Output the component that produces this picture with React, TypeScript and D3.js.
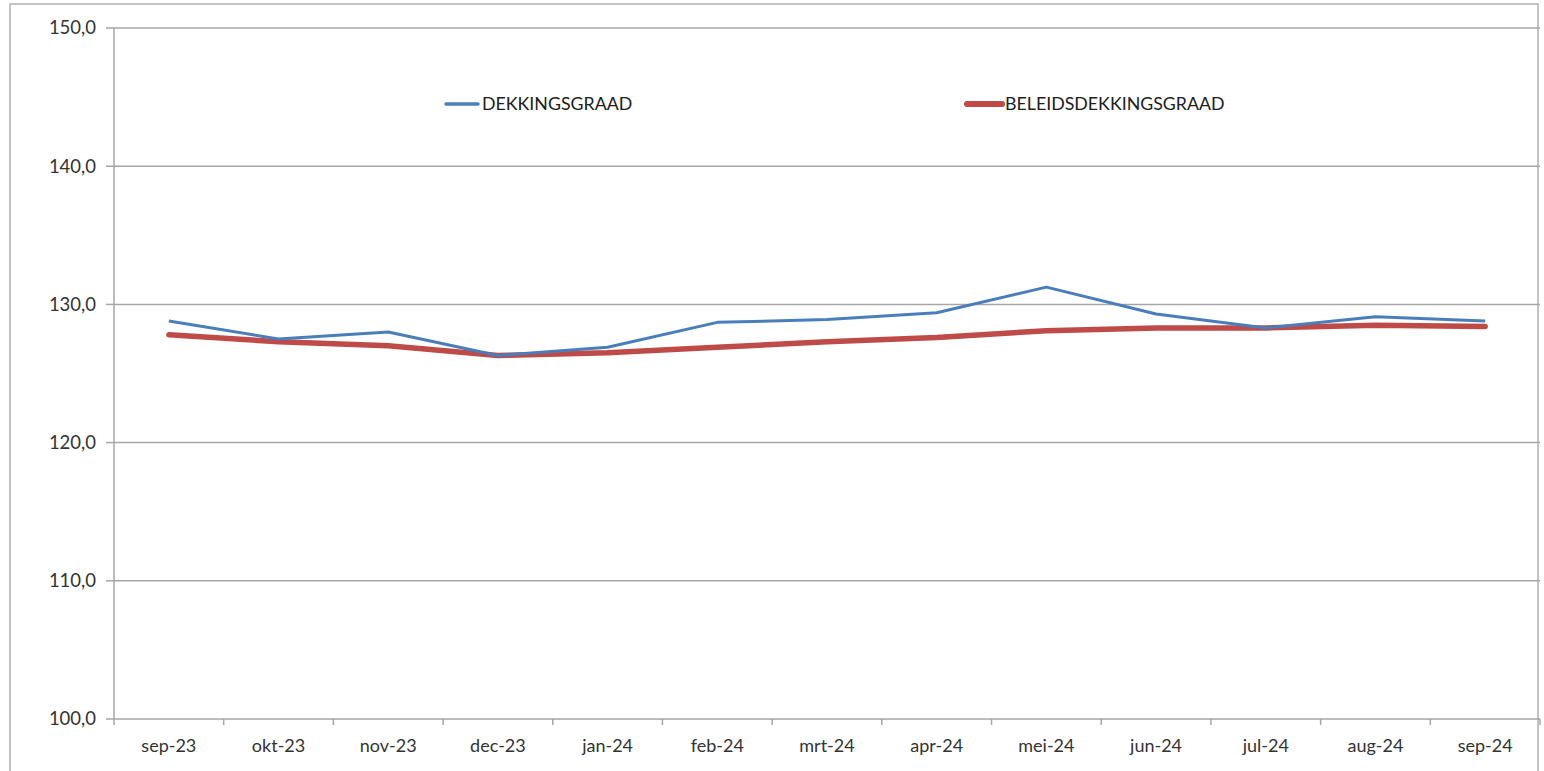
import React from "react";
import * as d3 from "d3";

const categories = ["sep-23","okt-23","nov-23","dec-23","jan-24","feb-24","mrt-24","apr-24","mei-24","jun-24","jul-24","aug-24","sep-24"];
const dekkingsgraad = [128.8,127.5,128.0,126.3,126.9,128.7,128.9,129.4,131.25,129.3,128.3,129.1,128.8];
const beleidsdekkingsgraad = [127.8,127.3,127.0,126.3,126.5,126.9,127.3,127.6,128.1,128.3,128.3,128.5,128.4];
const yTicks = [100,110,120,130,140,150];

export default function App() {
  const W = 1544, H = 771;
  const left = 114, right = 1540, top = 28, bottom = 719;
  const x = d3.scaleBand<string>().domain(categories).range([left, right]);
  const y = d3.scaleLinear().domain([100, 150]).range([bottom, top]);
  const cx = (c: string) => (x(c) as number) + x.bandwidth() / 2;
  const line = d3.line<number>().x((_, i) => cx(categories[i])).y((d) => y(d));
  const font = "Lato, 'Open Sans', sans-serif";
  const bounds = categories.map((c) => x(c) as number).concat([right]);
  return (
    <svg width={W} height={H} style={{ position: "absolute", left: 0, top: 0, background: "#fff" }} fontFamily={font}>
      <rect x={10} y={4} width={1528} height={800} fill="#fff" stroke="#b0b0b0" strokeWidth={1.5} />
      {yTicks.map((t) => (
        <g key={t}>
          {t !== 100 && <line x1={left} x2={right} y1={y(t)} y2={y(t)} stroke="#a6a6a6" strokeWidth={1.5} />}
          <line x1={left - 8} x2={left} y1={y(t)} y2={y(t)} stroke="#a6a6a6" strokeWidth={1.5} />
          <text x={96} y={y(t)} dy="0.35em" textAnchor="end" fontSize={18.5} fill="#333">
            {d3.format(".1f")(t).replace(".", ",")}
          </text>
        </g>
      ))}
      <line x1={left} x2={left} y1={top} y2={bottom} stroke="#a6a6a6" strokeWidth={1.5} />
      <line x1={left} x2={right} y1={bottom} y2={bottom} stroke="#a6a6a6" strokeWidth={1.5} />
      {bounds.map((b, i) => (
        <line key={i} x1={b} x2={b} y1={bottom} y2={bottom + 6} stroke="#a6a6a6" strokeWidth={1.5} />
      ))}
      {categories.map((c) => (
        <text key={c} x={cx(c)} y={746} textAnchor="middle" dy="0.35em" fontSize={18} fill="#333">{c}</text>
      ))}
      <path d={line(beleidsdekkingsgraad) || ""} fill="none" stroke="#be4b48" strokeWidth={5.5} strokeLinejoin="round" strokeLinecap="round" />
      <path d={line(dekkingsgraad) || ""} fill="none" stroke="#4a7ebb" strokeWidth={3} strokeLinejoin="round" />
      <line x1={446} x2={478} y1={104} y2={104} stroke="#4a7ebb" strokeWidth={3.5} strokeLinecap="round" />
      <text x={482} y={104} dy="0.35em" fontSize={17.8} fill="#202020">DEKKINGSGRAAD</text>
      <line x1={967} x2={1002} y1={104} y2={104} stroke="#be4b48" strokeWidth={6} strokeLinecap="round" />
      <text x={1005} y={104} dy="0.35em" fontSize={17.8} fill="#202020">BELEIDSDEKKINGSGRAAD</text>
    </svg>
  );
}
